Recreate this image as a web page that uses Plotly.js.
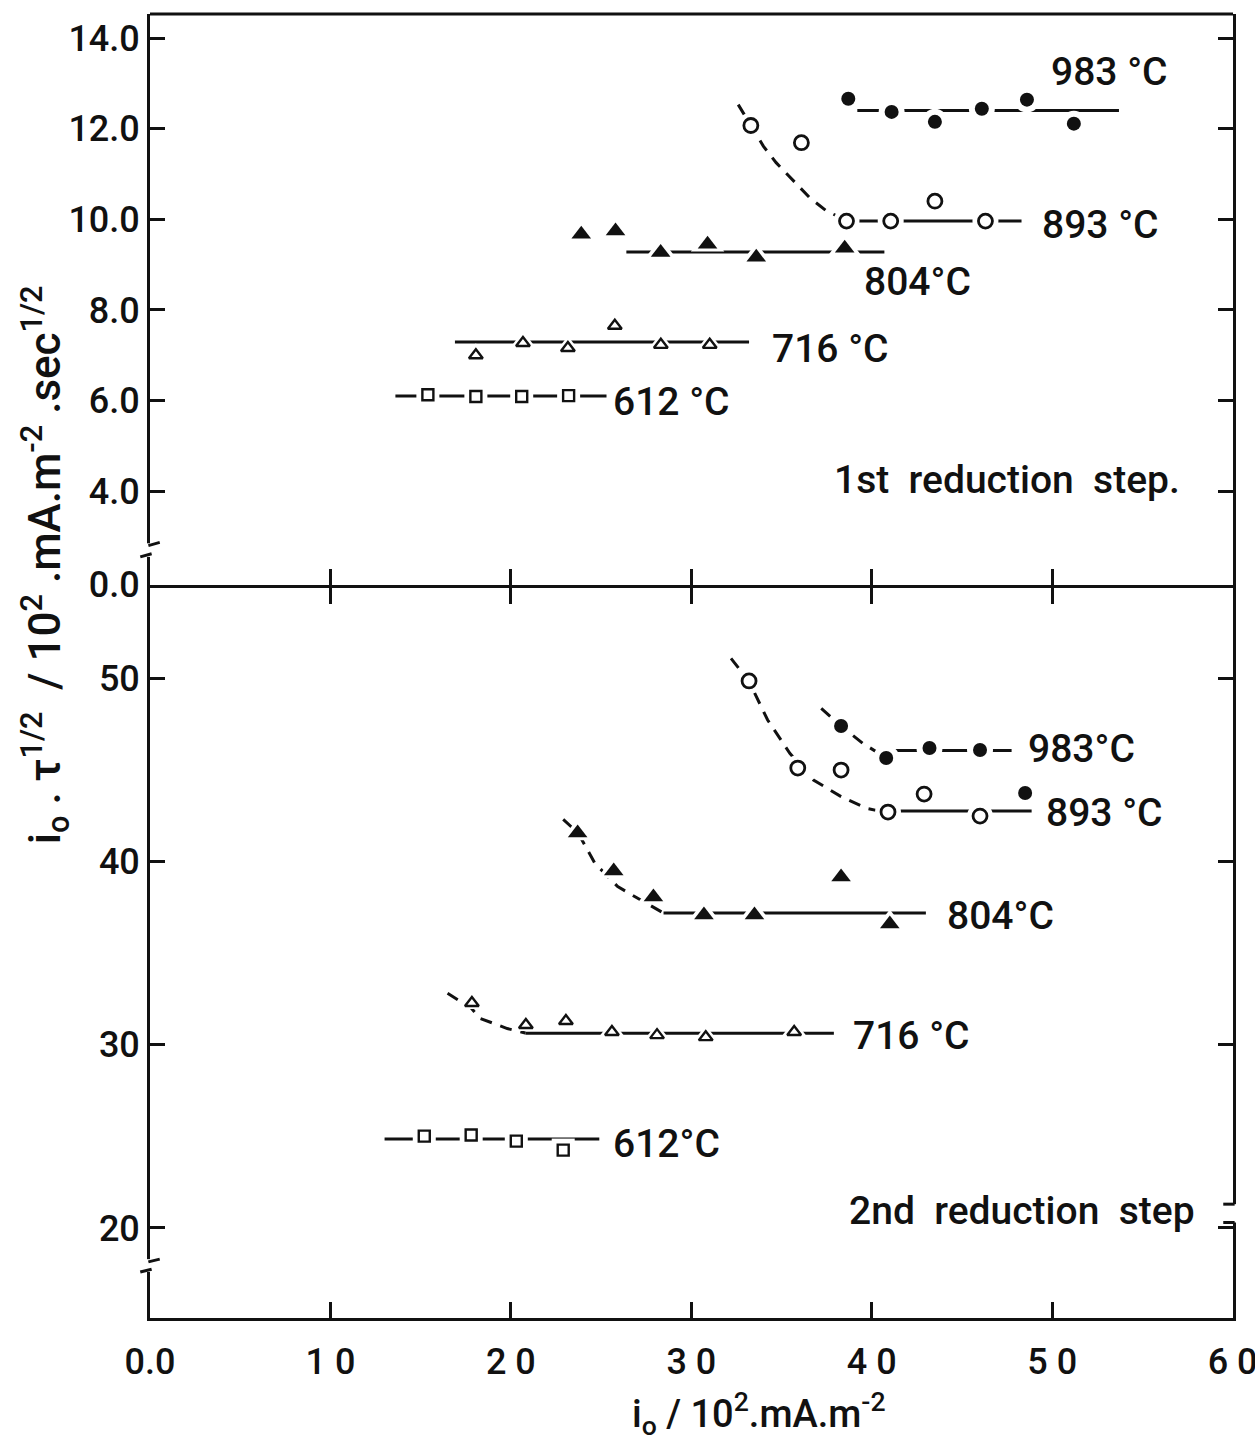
<!DOCTYPE html>
<html>
<head>
<meta charset="utf-8">
<script src="https://cdn.plot.ly/plotly-3.0.1.min.js"></script>
<style>html,body{margin:0;padding:0;background:#fff;}#chart{width:1255px;height:1444px;}</style>
</head>
<body>
<div id="chart"></div>
<script>
// ---------- DATA ----------
// 1st reduction step (top panel)
const t983_x = [38.7, 41.1, 43.5, 46.1, 48.6, 51.2];
const t983_y = [12.66, 12.37, 12.15, 12.44, 12.64, 12.11];
const t983_fitx = [39.2, 53.7];
const t983_fity = [12.40, 12.40];

const t893_x = [33.3, 36.1, 38.6, 41.05, 43.5, 46.3];
const t893_y = [12.07, 11.69, 9.96, 9.96, 10.40, 9.96];
const t893_curvex = [32.6, 33.3, 34.0, 34.7, 35.6, 36.55, 37.5, 38.1, 38.6];
const t893_curvey = [12.53, 12.07, 11.61, 11.25, 10.88, 10.48, 10.18, 10.07, 9.96];
const t893_fitx = [38.6, 48.3];
const t893_fity = [9.96, 9.96];

const t804_x = [23.9, 25.8, 28.3, 30.9, 33.6, 38.5];
const t804_y = [9.67, 9.74, 9.27, 9.45, 9.16, 9.36];
const t804_fitx = [26.4, 40.7];
const t804_fity = [9.28, 9.28];

const t716_x = [18.06, 20.67, 23.16, 25.76, 28.31, 31.02];
const t716_y = [7.00, 7.27, 7.16, 7.65, 7.23, 7.23];
const t716_fitx = [16.9, 33.2];
const t716_fity = [7.29, 7.29];

const t612_x = [15.4, 18.06, 20.6, 23.2];
const t612_y = [6.13, 6.09, 6.09, 6.11];
const t612_fitx = [13.6, 25.3];
const t612_fity = [6.10, 6.10];

// 2nd reduction step (bottom panel)
const b983_x = [38.3, 40.8, 43.2, 46.0, 48.5];
const b983_y = [47.38, 45.64, 46.18, 46.07, 43.73];
const b983_curvex = [37.2, 38.3, 39.5, 40.3, 40.8];
const b983_curvey = [48.35, 47.38, 46.44, 45.95, 45.8];
const b983_fitx = [40.8, 47.75];
const b983_fity = [46.05, 46.05];

const b893_x = [33.2, 35.9, 38.3, 40.9, 42.9, 46.0];
const b893_y = [49.84, 45.09, 44.98, 42.69, 43.67, 42.47];
const b893_curvex = [32.2, 33.18, 34.23, 35.46, 36.77, 38.3, 39.72, 40.44];
const b893_curvey = [51.07, 49.85, 47.71, 45.89, 44.44, 43.53, 42.89, 42.74];
const b893_fitx = [40.44, 48.86];
const b893_fity = [42.74, 42.74];

const b804_x = [23.7, 25.7, 27.9, 30.7, 33.5, 38.3, 41.0];
const b804_y = [41.54, 39.47, 38.05, 37.07, 37.07, 39.14, 36.58];
const b804_curvex = [22.9, 23.74, 24.65, 25.92, 27.2, 28.46];
const b804_curvey = [42.29, 41.53, 39.9, 38.62, 37.89, 37.18];
const b804_fitx = [28.46, 43.0];
const b804_fity = [37.18, 37.18];

const b716_x = [17.84, 20.83, 23.05, 25.6, 28.1, 30.8, 35.7];
const b716_y = [32.27, 31.07, 31.29, 30.69, 30.52, 30.41, 30.69];
const b716_curvex = [16.49, 17.8, 18.3, 19.8, 20.8];
const b716_curvey = [32.8, 32.0, 31.43, 30.88, 30.64];
const b716_fitx = [20.8, 37.9];
const b716_fity = [30.62, 30.62];

const b612_x = [15.2, 17.8, 20.3, 22.9];
const b612_y = [25.01, 25.07, 24.74, 24.25];
const b612_fitx = [13.0, 24.9];
const b612_fity = [24.85, 24.85];

const xTickVals = [0, 10, 20, 30, 40, 50, 60];
const xTickText = ["0.0", "1 0", "2 0", "3 0", "4 0", "5 0", "6 0"];
const topTickVals = [1.95, 4, 6, 8, 10, 12, 14];
const topTickText = ["0.0", "4.0", "6.0", "8.0", "10.0", "12.0", "14.0"];
const botTickVals = [20, 30, 40, 50];
const botTickText = ["20", "30", "40", "50"];

// ---------- STYLE ----------
const FONT = "Roboto, Arial, sans-serif";
const WEIGHT = 500;
const BLACK = "#111";
const LW = 3;

const traces = [];
function line(x, y, yaxis, dash) {
  traces.push({x: x, y: y, xaxis: yaxis === 'y2' ? 'x2' : 'x', yaxis: yaxis, mode: 'lines',
    line: {color: BLACK, width: LW, dash: dash || 'solid'}, hoverinfo: 'skip', showlegend: false});
}
const SYM = {
  fc: {symbol: 'circle', size: 14, fill: BLACK, lw: 0},
  oc: {symbol: 'circle', size: 14, fill: '#fff', lw: 2.8},
  ft: {symbol: 'triangle-up', size: 17, fill: BLACK, lw: 0},
  ot: {symbol: 'triangle-up', size: 12, fill: '#fff', lw: 2.4},
  os: {symbol: 'square', size: 11, fill: '#fff', lw: 2.4}
};
const markerSets = [];
function pts(x, y, yaxis, kind) { markerSets.push({x, y, yaxis, kind}); }

// top
line(t983_fitx, t983_fity, 'y2');
line(t893_curvex, t893_curvey, 'y2', '12px,9px');
line(t893_fitx, t893_fity, 'y2');
line(t804_fitx, t804_fity, 'y2');
line(t716_fitx, t716_fity, 'y2');
line(t612_fitx, t612_fity, 'y2');
// bottom
line(b983_curvex, b983_curvey, 'y', '12px,9px');
line(b983_fitx, b983_fity, 'y');
line(b893_curvex, b893_curvey, 'y', '12px,9px');
line(b893_fitx, b893_fity, 'y');
line(b804_curvex, b804_curvey, 'y', '12px,9px');
line(b804_fitx, b804_fity, 'y');
line(b716_curvex, b716_curvey, 'y', '12px,9px');
line(b716_fitx, b716_fity, 'y');
line(b612_fitx, b612_fity, 'y');

pts(t983_x, t983_y, 'y2', 'fc');
pts(t893_x, t893_y, 'y2', 'oc');
pts(t804_x, t804_y, 'y2', 'ft');
pts(t716_x, t716_y, 'y2', 'ot');
pts(t612_x, t612_y, 'y2', 'os');
pts(b983_x, b983_y, 'y', 'fc');
pts(b893_x, b893_y, 'y', 'oc');
pts(b804_x, b804_y, 'y', 'ft');
pts(b716_x, b716_y, 'y', 'ot');
pts(b612_x, b612_y, 'y', 'os');

// white halos so the lines break around markers
markerSets.forEach(m => {
  const s = SYM[m.kind];
  traces.push({x: m.x, y: m.y, xaxis: m.yaxis === 'y2' ? 'x2' : 'x', yaxis: m.yaxis, mode: 'markers',
    marker: {symbol: s.symbol, size: s.size + 12, color: '#fff', line: {width: 0}}, hoverinfo: 'skip', showlegend: false});
});
markerSets.forEach(m => {
  const s = SYM[m.kind];
  traces.push({x: m.x, y: m.y, xaxis: m.yaxis === 'y2' ? 'x2' : 'x', yaxis: m.yaxis, mode: 'markers',
    marker: {symbol: s.symbol, size: s.size, color: s.fill, line: {color: BLACK, width: s.lw}}, showlegend: false});
});

const PLOT_H = 1444 - 14 - 126;
const SPLIT = 0.5598;
const tickFont = {family: FONT, size: 36, color: BLACK, weight: WEIGHT};
const labFont = {family: FONT, size: 39, color: BLACK, weight: WEIGHT};

function lab(text, x, y, yref, xanchor) {
  return {text: text, x: x, y: y, xref: yref === 'y2' ? 'x2' : 'x', yref: yref, showarrow: false,
    xanchor: xanchor || 'center', yanchor: 'middle', font: labFont};
}

const annotations = [
  lab('983 °C', 53.2, 13.25, 'y2'),
  lab('893 °C', 52.7, 9.87, 'y2'),
  lab('804°C', 42.55, 8.62, 'y2'),
  lab('716 °C', 37.7, 7.14, 'y2'),
  lab('612 °C', 28.9, 5.96, 'y2'),
  lab('1st  reduction  step.', 57.2, 4.24, 'y2', 'right'),
  lab('983°C', 51.6, 46.13, 'y'),
  lab('893 °C', 52.9, 42.64, 'y'),
  lab('804°C', 47.15, 37.02, 'y'),
  lab('716 °C', 42.2, 30.47, 'y'),
  lab('612°C', 28.6, 24.58, 'y'),
  lab('2nd  reduction  step', 58.0, 20.92, 'y', 'right'),
  {text: 'i<sub>o</sub> . τ<sup>1/2</sup>  / 10<sup>2</sup> .mA.m<sup>-2</sup> .sec<sup>1/2</sup>',
   xref: 'paper', yref: 'paper', x: -0.097, y: 0.578, textangle: -90, showarrow: false,
   xanchor: 'center', yanchor: 'middle', font: {family: FONT, size: 44, color: BLACK, weight: WEIGHT}},
  {text: 'i<sub>o</sub> / 10<sup>2</sup>.mA.m<sup>-2</sup>',
   xref: 'paper', yref: 'paper', x: 0.562, y: -0.0735, showarrow: false,
   xanchor: 'center', yanchor: 'middle', font: {family: FONT, size: 38, color: BLACK, weight: WEIGHT}}
];

// axis-break decorations and the top frame edge
const shapes = [
  {type: 'line', xref: 'paper', yref: 'paper', x0: 0, x1: 1, y0: 1, y1: 1, line: {color: BLACK, width: 3}},
  {type: 'rect', xref: 'paper', yref: 'y2', x0: -0.006, x1: 0.006, y0: 2.55, y1: 2.85, fillcolor: '#fff', line: {width: 0}, layer: 'above'},
  {type: 'line', xref: 'paper', yref: 'y2', x0: -0.009, x1: 0.0015, y0: 2.55, y1: 2.62, line: {color: BLACK, width: 3}, layer: 'above'},
  {type: 'line', xref: 'paper', yref: 'y2', x0: -0.0015, x1: 0.009, y0: 2.80, y1: 2.87, line: {color: BLACK, width: 3}, layer: 'above'},
  {type: 'rect', xref: 'paper', yref: 'y', x0: -0.006, x1: 0.006, y0: 17.6, y1: 18.3, fillcolor: '#fff', line: {width: 0}, layer: 'above'},
  {type: 'line', xref: 'paper', yref: 'y', x0: -0.009, x1: 0.0015, y0: 17.6, y1: 17.75, line: {color: BLACK, width: 3}, layer: 'above'},
  {type: 'line', xref: 'paper', yref: 'y', x0: -0.0015, x1: 0.009, y0: 18.15, y1: 18.3, line: {color: BLACK, width: 3}, layer: 'above'},
  {type: 'rect', xref: 'paper', yref: 'y', x0: 0.994, x1: 1.006, y0: 20.3, y1: 21.3, fillcolor: '#fff', line: {width: 0}, layer: 'above'},
  {type: 'line', xref: 'paper', yref: 'y', x0: 0.991, x1: 1.0015, y0: 20.3, y1: 20.3, line: {color: BLACK, width: 3}, layer: 'above'},
  {type: 'line', xref: 'paper', yref: 'y', x0: 0.991, x1: 1.0015, y0: 21.3, y1: 21.3, line: {color: BLACK, width: 3}, layer: 'above'}
];

const layout = {
  width: 1255, height: 1444,
  margin: {l: 150, r: 22, t: 14, b: 126},
  paper_bgcolor: '#fff', plot_bgcolor: '#fff',
  showlegend: false,
  font: {family: FONT, color: BLACK},
  xaxis: {domain: [0, 1], range: [0, 60.02], anchor: 'y', tickmode: 'array', tickvals: xTickVals, ticktext: xTickText,
    ticks: 'inside', ticklen: 16, tickwidth: 3, tickcolor: BLACK, showline: true, linewidth: 3, linecolor: BLACK,
    mirror: 'ticks', showgrid: false, zeroline: false, tickfont: tickFont, ticklabelstandoff: 10,
    ticklabeloverflow: 'allow'},
  xaxis2: {domain: [0, 1], range: [0, 60.02], anchor: 'y2', matches: 'x', tickmode: 'array', tickvals: xTickVals,
    ticks: 'inside', ticklen: 16, tickwidth: 3, tickcolor: BLACK, showline: false,
    showgrid: false, zeroline: false, showticklabels: false},
  yaxis: {domain: [0, SPLIT], range: [15.09, 54.91], anchor: 'x', tickmode: 'array', tickvals: botTickVals, ticktext: botTickText,
    ticks: 'inside', ticklen: 15, tickwidth: 3, tickcolor: BLACK, showline: true, linewidth: 3, linecolor: BLACK,
    mirror: 'ticks', showgrid: false, zeroline: false, tickfont: tickFont},
  yaxis2: {domain: [SPLIT + 3 / PLOT_H, 1], range: [1.93, 14.53], anchor: 'x2', tickmode: 'array', tickvals: topTickVals, ticktext: topTickText,
    ticks: 'inside', ticklen: 15, tickwidth: 3, tickcolor: BLACK, showline: true, linewidth: 3, linecolor: BLACK,
    mirror: 'ticks', showgrid: false, zeroline: false, tickfont: tickFont},
  annotations: annotations,
  shapes: shapes
};

Plotly.newPlot('chart', traces, layout, {displayModeBar: false, staticPlot: true});
</script>
</body>
</html>
